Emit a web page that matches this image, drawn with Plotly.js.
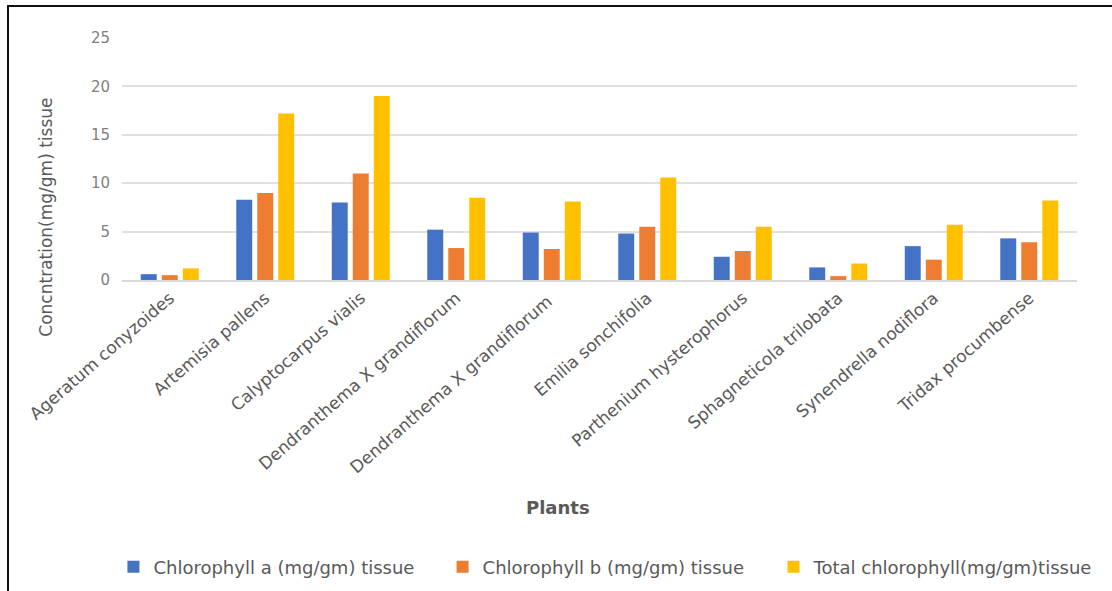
<!DOCTYPE html>
<html>
<head>
<meta charset="utf-8">
<script src="https://cdn.plot.ly/plotly-3.0.1.min.js"></script>
<style>
  html, body { margin: 0; padding: 0; background: #fff; }
  #chart { width: 1112px; height: 591px; }
  #frame { position: absolute; left: 7px; top: 5px; width: 1105px; height: 586px;
           border-top: 2px solid #111; border-left: 2px solid #111; pointer-events: none; }
</style>
</head>
<body>
<div id="chart"></div>
<div id="frame"></div>
<script>
const plants = [
  "Ageratum conyzoides",
  "Artemisia pallens",
  "Calyptocarpus vialis",
  "Dendranthema X grandiflorum",
  "Dendranthema X grandiflorum ",
  "Emilia sonchifolia",
  "Parthenium hysterophorus",
  "Sphagneticola trilobata",
  "Synendrella nodiflora",
  "Tridax procumbense"
];
const chlA = [0.6, 8.3, 8.0, 5.2, 4.9, 4.8, 2.4, 1.3, 3.5, 4.3];
const chlB = [0.5, 9.0, 11.0, 3.3, 3.2, 5.5, 3.0, 0.4, 2.1, 3.9];
const total = [1.2, 17.2, 19.0, 8.5, 8.1, 10.6, 5.5, 1.7, 5.7, 8.2];
const seriesNames = [
  "Chlorophyll a (mg/gm) tissue",
  "Chlorophyll b (mg/gm) tissue",
  "Total chlorophyll(mg/gm)tissue"
];
const yTicks = [0, 5, 10, 15, 20, 25];

const colors = ["#4472C4", "#ED7D31", "#FFC000"];
const font = "DejaVu Sans, sans-serif";
const legendIds = ["legend", "legend2", "legend3"];
const legendX = [0.102, 0.398, 0.6956];

const traces = [chlA, chlB, total].map((vals, i) => ({
  type: "bar",
  name: seriesNames[i],
  x: plants,
  y: vals,
  legend: legendIds[i],
  marker: { color: colors[i] },
  hoverinfo: "x+y"
}));

const layout = {
  width: 1112,
  height: 591,
  margin: { l: 122, r: 35, t: 38, b: 311 },
  paper_bgcolor: "#fff",
  plot_bgcolor: "#fff",
  barmode: "group",
  bargap: 0.34,
  bargroupgap: 0.24,
  font: { family: font, color: "#7f7f7f", size: 14 },
  showlegend: true,
  xaxis: {
    type: "category",
    tickangle: -41,
    tickfont: { family: font, size: 17, color: "#595959" },
    showgrid: false,
    showline: true,
    linecolor: "#d9d9d9",
    linewidth: 1.5,
    ticks: "",
    automargin: false
  },
  yaxis: {
    range: [0, 25],
    tickvals: yTicks,
    ticktext: yTicks.map(String),
    tickfont: { family: font, size: 15, color: "#7f7f7f" },
    showgrid: true,
    gridcolor: "#e0e0e0",
    gridwidth: 2,
    zeroline: false,
    showline: false,
    ticks: "outside",
    ticklen: 8,
    tickcolor: "rgba(0,0,0,0)",
    automargin: false
  },
  annotations: [
    {
      text: "Concntration(mg/gm) tissue",
      xref: "paper", yref: "paper",
      x: -0.08, y: 0.26,
      xanchor: "center", yanchor: "middle",
      textangle: -90,
      showarrow: false,
      font: { family: font, size: 17, color: "#595959" }
    },
    {
      text: "<b>Plants</b>",
      xref: "paper", yref: "paper",
      x: 0.4565, y: -0.942,
      xanchor: "center", yanchor: "middle",
      showarrow: false,
      font: { family: font, size: 18, color: "#595959" }
    }
  ]
};

legendIds.forEach((id, i) => {
  layout[id] = {
    orientation: "h",
    xref: "container", yref: "container",
    x: legendX[i], xanchor: "left",
    y: 0.0406, yanchor: "middle",
    font: { family: font, size: 18, color: "#595959" },
    itemwidth: 30
  };
});

Plotly.newPlot("chart", traces, layout, { displayModeBar: false, staticPlot: true });
</script>
</body>
</html>
